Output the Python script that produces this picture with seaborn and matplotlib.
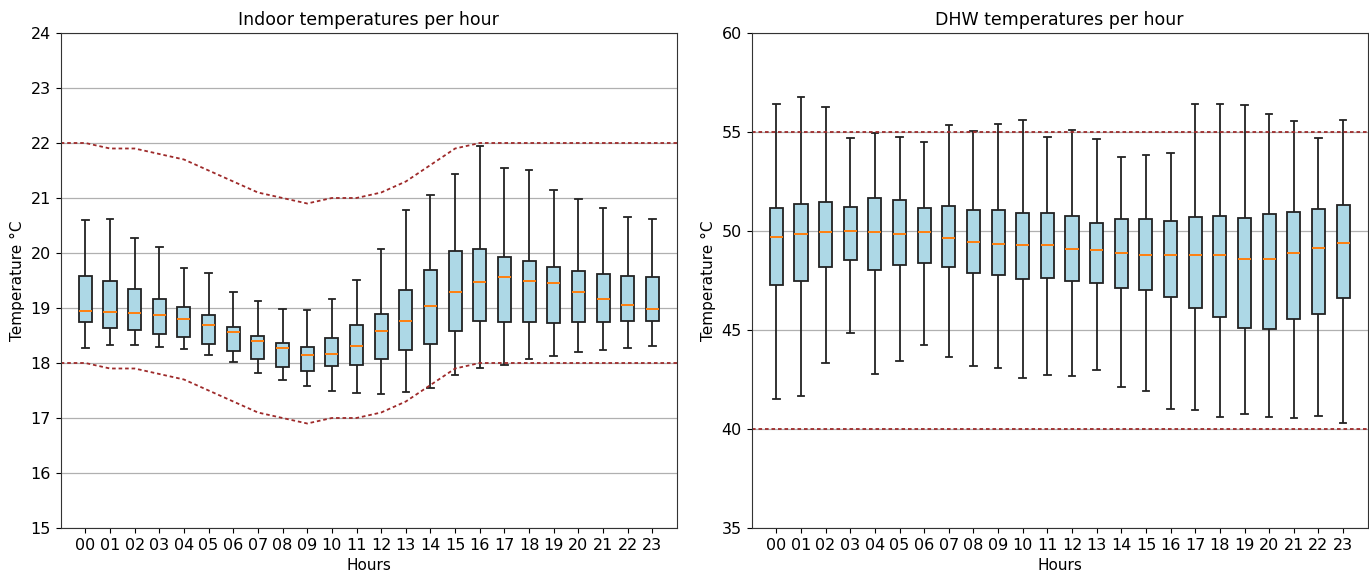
"""Indoor and DHW temperature box plots per hour."""

import matplotlib

matplotlib.use("Agg")
import matplotlib.pyplot as plt
import numpy as np
import pandas as pd
import seaborn as sns

# $ Data
hours = [f"{h:02d}" for h in range(24)]

# Indoor temperatures: whisker low, q1, median, q3, whisker high
indoor_lo = [18.28, 18.33, 18.33, 18.30, 18.25, 18.14, 18.02, 17.81, 17.69, 17.58, 17.50, 17.46,
             17.43, 17.47, 17.54, 17.79, 17.91, 17.97, 18.07, 18.12, 18.20, 18.24, 18.28, 18.31]
indoor_q1 = [18.75, 18.64, 18.60, 18.53, 18.48, 18.34, 18.22, 18.07, 17.93, 17.85, 17.94, 17.97,
             18.08, 18.23, 18.35, 18.59, 18.77, 18.75, 18.75, 18.73, 18.75, 18.75, 18.76, 18.77]
indoor_med = [18.95, 18.93, 18.91, 18.88, 18.80, 18.70, 18.56, 18.40, 18.27, 18.15, 18.16, 18.31,
              18.59, 18.77, 19.03, 19.30, 19.47, 19.56, 19.50, 19.45, 19.29, 19.16, 19.05, 18.99]
indoor_q3 = [19.58, 19.49, 19.34, 19.17, 19.02, 18.87, 18.65, 18.50, 18.36, 18.30, 18.45, 18.69,
             18.90, 19.32, 19.70, 20.03, 20.07, 19.93, 19.86, 19.74, 19.68, 19.62, 19.58, 19.57]
indoor_hi = [20.60, 20.62, 20.27, 20.11, 19.73, 19.63, 19.30, 19.13, 18.99, 18.96, 19.17, 19.51,
             20.07, 20.79, 21.06, 21.44, 21.95, 21.54, 21.51, 21.15, 20.99, 20.82, 20.65, 20.62]

# Indoor comfort band per hour
comfort_upper = [22.0, 21.9, 21.9, 21.8, 21.7, 21.5, 21.3, 21.1, 21.0, 20.9, 21.0, 21.0,
                 21.1, 21.3, 21.6, 21.9, 22.0, 22.0, 22.0, 22.0, 22.0, 22.0, 22.0, 22.0]
comfort_lower = [18.0, 17.9, 17.9, 17.8, 17.7, 17.5, 17.3, 17.1, 17.0, 16.9, 17.0, 17.0,
                 17.1, 17.3, 17.6, 17.9, 18.0, 18.0, 18.0, 18.0, 18.0, 18.0, 18.0, 18.0]

# DHW temperatures: whisker low, q1, median, q3, whisker high
dhw_lo = [41.51, 41.65, 43.31, 44.83, 42.79, 43.41, 44.23, 43.65, 43.16, 43.07, 42.57, 42.72,
          42.69, 42.99, 42.10, 41.92, 41.03, 40.95, 40.59, 40.76, 40.59, 40.54, 40.66, 40.31]
dhw_q1 = [47.25, 47.47, 48.17, 48.54, 48.04, 48.27, 48.37, 48.17, 47.87, 47.77, 47.57, 47.62,
          47.50, 47.38, 47.10, 47.00, 46.66, 46.11, 45.66, 45.11, 45.07, 45.54, 45.81, 46.61]
dhw_med = [49.71, 49.87, 49.97, 50.02, 49.97, 49.87, 49.93, 49.63, 49.43, 49.33, 49.31, 49.31,
           49.09, 49.04, 48.91, 48.78, 48.81, 48.81, 48.81, 48.61, 48.58, 48.88, 49.16, 49.41]
dhw_q3 = [51.17, 51.37, 51.44, 51.22, 51.66, 51.56, 51.17, 51.24, 51.06, 51.06, 50.91, 50.91,
          50.75, 50.42, 50.60, 50.59, 50.52, 50.70, 50.75, 50.65, 50.84, 50.96, 51.11, 51.29]
dhw_hi = [56.39, 56.76, 56.27, 54.71, 54.96, 54.74, 54.48, 55.37, 55.03, 55.40, 55.63, 54.74,
          55.08, 54.64, 53.76, 53.86, 53.92, 56.40, 56.39, 56.37, 55.90, 55.58, 54.69, 55.62]

dhw_upper = 55
dhw_lower = 40


def to_long(lo, q1, med, q3, hi):
    """Five points per hour reproduce the box exactly with whis=(0, 100)."""
    rows = []
    for h, vals in zip(hours, zip(lo, q1, med, q3, hi)):
        for v in vals:
            rows.append({"Hours": h, "temp": v})
    return pd.DataFrame(rows)


indoor_df = to_long(indoor_lo, indoor_q1, indoor_med, indoor_q3, indoor_hi)
dhw_df = to_long(dhw_lo, dhw_q1, dhw_med, dhw_q3, dhw_hi)

box_kws = dict(
    x="Hours",
    y="temp",
    color="lightblue",
    saturation=1,
    width=0.53,
    whis=(0, 100),
    showfliers=False,
    linecolor="#222222",
    linewidth=1.3,
    medianprops=dict(color="#ff7f0e", linewidth=1.4),
)
bound_color = "#9e2a2a"

fig, axs = plt.subplots(1, 2, figsize=(13.69, 5.77), dpi=100)
axs[0].set_position([60.7 / 1369, 49 / 577, 616.3 / 1369, 495 / 577])
axs[1].set_position([751.7 / 1369, 49 / 577, 616 / 1369, 495 / 577])

# Indoor
ax = axs[0]
sns.boxplot(data=indoor_df, ax=ax, **box_kws)
xs = np.arange(-1, 25)
ax.plot(xs, [comfort_upper[0]] + comfort_upper + [comfort_upper[-1]],
        color=bound_color, linestyle=(0, (2, 1.6)), linewidth=1.3)
ax.plot(xs, [comfort_lower[0]] + comfort_lower + [comfort_lower[-1]],
        color=bound_color, linestyle=(0, (2, 1.6)), linewidth=1.3)
ax.set_ylim(15, 24)
ax.set_yticks(range(15, 25))
ax.set_title("Indoor temperatures per hour", fontsize=12.5)

# DHW
ax = axs[1]
sns.boxplot(data=dhw_df, ax=ax, **box_kws)
ax.axhline(dhw_upper, color=bound_color, linestyle=(0, (2, 1.6)), linewidth=1.3)
ax.axhline(dhw_lower, color=bound_color, linestyle=(0, (2, 1.6)), linewidth=1.3)
ax.set_ylim(35, 60)
ax.set_yticks(range(35, 61, 5))
ax.set_title("DHW temperatures per hour", fontsize=12.5)

for ax in axs:
    ax.set_xlim(-1, 24)
    ax.set_axisbelow(True)
    ax.yaxis.grid(True, color="#b0b0b0", linewidth=0.9)
    ax.set_xlabel("Hours", fontsize=11)
    ax.set_ylabel("Temperature °C", fontsize=11)
    ax.tick_params(labelsize=11.5)
    for spine in ax.spines.values():
        spine.set_color("#333333")

plt.savefig("out.png", dpi=100)
plt.close()
